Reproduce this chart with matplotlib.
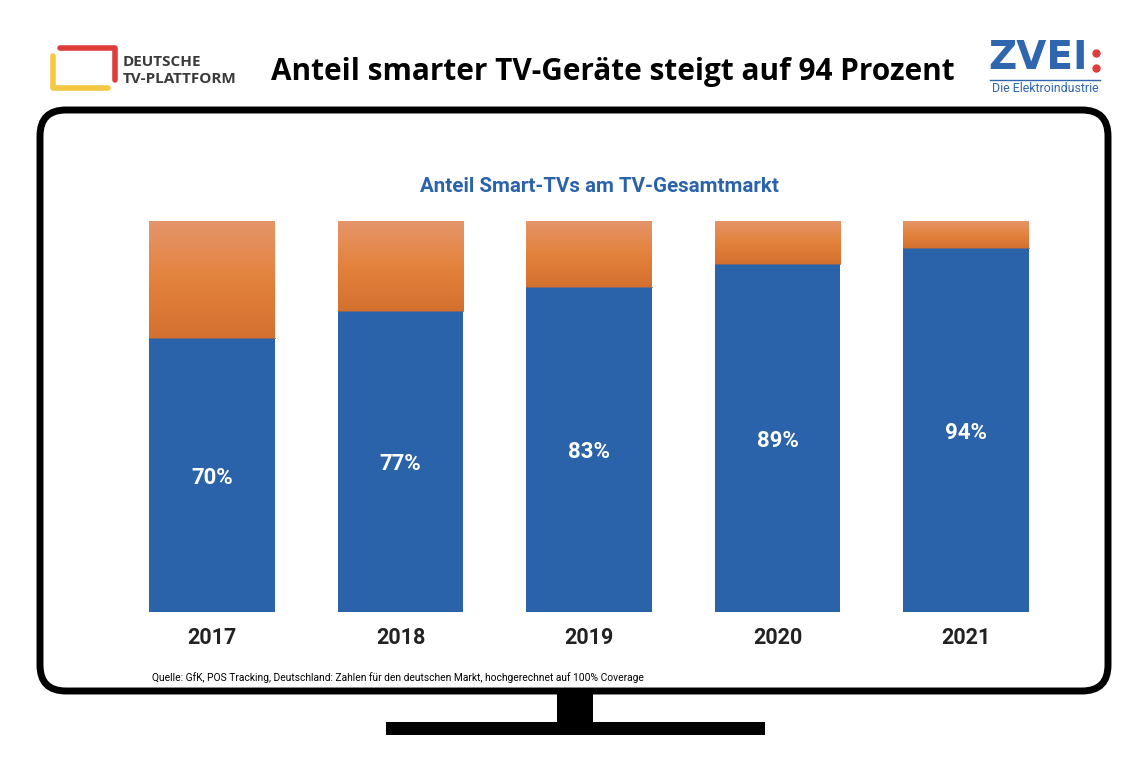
"""Anteil Smart-TVs am TV-Gesamtmarkt, drawn as a TV screen with stacked bars."""

import matplotlib

matplotlib.use("Agg")
import matplotlib.pyplot as plt  # noqa: E402
import numpy as np  # noqa: E402
from matplotlib.colors import LinearSegmentedColormap  # noqa: E402
from matplotlib.patches import FancyBboxPatch, Rectangle  # noqa: E402

years = ["2017", "2018", "2019", "2020", "2021"]
smart_share = [70.1, 77.0, 83.1, 89.0, 93.1]  # bar heights as drawn in the source
labels = ["70%", "77%", "83%", "89%", "94%"]

title = "Anteil smarter TV-Geräte steigt auf 94 Prozent"
subtitle = "Anteil Smart-TVs am TV-Gesamtmarkt"
source = ("Quelle: GfK, POS Tracking, Deutschland: Zahlen für den deutschen Markt, "
          "hochgerechnet auf 100% Coverage")

BLUE = "#2a63aa"
ORANGE = LinearSegmentedColormap.from_list("orange", ["#d4702f", "#e3823c", "#e5956a"])
FONT = "Roboto"
WIDE = "Open Sans"

W, H = 1144, 768
fig = plt.figure(figsize=(W / 100, H / 100), dpi=100)
fig.patch.set_facecolor("white")

# overlay in pixel coordinates for frame, logos and titles
over = fig.add_axes([0, 0, 1, 1])
over.set_xlim(0, W)
over.set_ylim(H, 0)
over.axis("off")

# TV frame and stand
over.add_patch(FancyBboxPatch((40, 110), 1068, 581, boxstyle="round,pad=0,rounding_size=26",
                              fill=False, lw=5, ec="black"))
over.add_patch(Rectangle((557, 693), 36, 30, color="black", lw=0))
over.add_patch(Rectangle((386, 722), 379, 13, color="black", lw=0))

# Deutsche TV-Plattform logo: red top/right corner, yellow left/bottom corner
over.plot([60, 114.5, 114.5], [47.5, 47.5, 80], color="#e03c3c", lw=4,
          solid_capstyle="round", solid_joinstyle="round")
over.plot([52.5, 52.5, 108], [56, 88, 88], color="#f5c842", lw=4,
          solid_capstyle="round", solid_joinstyle="round")
over.text(123, 62, "DEUTSCHE", fontsize=11, fontweight="bold", color="#3a3a3a",
          family=WIDE, va="center", ha="left")
over.text(123, 79, "TV-PLATTFORM", fontsize=11, fontweight="bold", color="#3a3a3a",
          family=WIDE, va="center", ha="left")

# ZVEI logo
over.text(988, 58, "ZVEI", fontsize=28, fontweight="bold", color="#2f66ae",
          family="DejaVu Sans", va="center", ha="left")
over.plot([1096, 1096], [53, 68], ls="none", marker="o", ms=5, color="#e03c3c")
over.plot([990, 1100], [80, 80], color="#2f66ae", lw=1)
over.text(1045, 89, "Die Elektroindustrie", fontsize=8.9, color="#2f66ae",
          family=FONT, va="center", ha="center")

# titles and source
over.text(613, 72, title, fontsize=21.4, fontweight="bold", color="black",
          family=WIDE, va="center", ha="center")
over.text(599, 186, subtitle, fontsize=14.8, fontweight="bold", color=BLUE,
          family=FONT, va="center", ha="center")
over.text(152, 678, source, fontsize=7.4, color="black", family=FONT,
          va="center", ha="left")

# bar chart
ax = fig.add_axes([117.75 / W, (H - 612) / H, 942.5 / W, 391 / H])
ax.set_xlim(-0.5, len(years) - 0.5)
ax.set_ylim(0, 100)
ax.axis("off")

x = np.arange(len(years))
width = 0.668
gradient = np.linspace(0, 1, 256).reshape(-1, 1)
for xi, share, label, year in zip(x, smart_share, labels, years):
    ax.bar(xi, share, width=width, color=BLUE, zorder=2)
    ax.imshow(gradient, cmap=ORANGE, aspect="auto", origin="lower", zorder=2,
              extent=(xi - width / 2, xi + width / 2, share, 100))
    ax.plot([xi - width / 2, xi + width / 2], [share, share], color="#8a6a60",
            lw=0.6, zorder=3)
    ax.text(xi, share / 2 - 0.7, label, color="white", fontsize=16, fontweight="bold",
            family=FONT, ha="center", va="center", zorder=4)
    ax.text(xi, -6.6, year, color="#222222", fontsize=15.5, fontweight="bold",
            family=FONT, ha="center", va="center", clip_on=False)
ax.set_xlim(-0.5, len(years) - 0.5)
ax.set_ylim(0, 100)

fig.savefig("out.png", dpi=100, facecolor="white")
